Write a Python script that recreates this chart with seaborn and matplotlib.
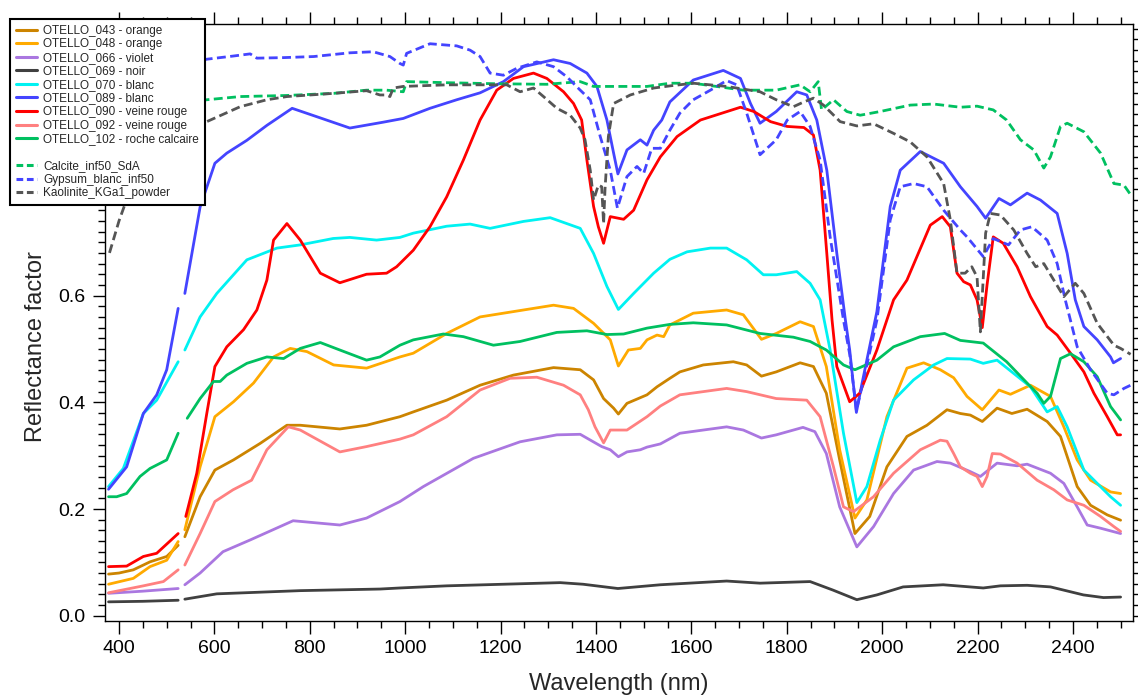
import matplotlib
matplotlib.use("Agg")
import matplotlib.pyplot as plt
from matplotlib.lines import Line2D
from matplotlib.ticker import MultipleLocator, FuncFormatter
import numpy as np
import pandas as pd
import seaborn as sns

# wavelength (nm) / reflectance; OTELLO spectra have a gap ~525-538 nm
wl_043 = [378, 400, 430, 465, 500, 524, 538, 570, 601, 640, 696, 752, 780, 863, 919, 989, 1017, 1087, 1157, 1227, 1311, 1367, 1395, 1416, 1437, 1447, 1465, 1486, 1507, 1528, 1555, 1576, 1625, 1688, 1716, 1747, 1778, 1828, 1856, 1883, 1911, 1943, 1974, 2010, 2052, 2094, 2136, 2164, 2185, 2210, 2241, 2272, 2304, 2346, 2374, 2409, 2437, 2472, 2500]
r_043 = [0.078, 0.080, 0.086, 0.101, 0.111, 0.132, 0.148, 0.223, 0.273, 0.292, 0.323, 0.357, 0.357, 0.350, 0.357, 0.373, 0.382, 0.404, 0.432, 0.451, 0.465, 0.461, 0.442, 0.407, 0.389, 0.378, 0.398, 0.406, 0.414, 0.429, 0.445, 0.457, 0.470, 0.476, 0.470, 0.449, 0.457, 0.474, 0.467, 0.417, 0.292, 0.154, 0.186, 0.279, 0.336, 0.357, 0.386, 0.379, 0.376, 0.364, 0.389, 0.379, 0.387, 0.364, 0.336, 0.242, 0.207, 0.189, 0.179]

wl_048 = [378, 430, 465, 500, 524, 538, 570, 601, 640, 682, 724, 759, 794, 850, 919, 989, 1017, 1087, 1157, 1227, 1311, 1353, 1395, 1430, 1447, 1468, 1493, 1507, 1528, 1542, 1555, 1604, 1674, 1709, 1747, 1778, 1828, 1856, 1883, 1911, 1943, 1968, 2010, 2052, 2087, 2122, 2150, 2178, 2210, 2245, 2269, 2311, 2353, 2381, 2409, 2437, 2479, 2500]
r_048 = [0.059, 0.070, 0.092, 0.104, 0.139, 0.161, 0.279, 0.373, 0.401, 0.436, 0.485, 0.501, 0.495, 0.470, 0.464, 0.485, 0.492, 0.529, 0.560, 0.570, 0.582, 0.576, 0.548, 0.517, 0.468, 0.498, 0.501, 0.517, 0.526, 0.523, 0.545, 0.567, 0.573, 0.564, 0.518, 0.529, 0.551, 0.542, 0.467, 0.311, 0.183, 0.217, 0.373, 0.464, 0.474, 0.461, 0.446, 0.411, 0.386, 0.423, 0.415, 0.432, 0.411, 0.354, 0.292, 0.254, 0.232, 0.229]

wl_066 = [378, 450, 524, 538, 570, 618, 675, 765, 863, 919, 989, 1038, 1143, 1241, 1318, 1367, 1412, 1430, 1447, 1465, 1493, 1507, 1535, 1576, 1674, 1709, 1747, 1778, 1834, 1859, 1883, 1911, 1947, 1982, 2024, 2066, 2115, 2143, 2185, 2206, 2241, 2283, 2304, 2353, 2381, 2409, 2430, 2458, 2500]
r_066 = [0.042, 0.046, 0.051, 0.058, 0.080, 0.120, 0.142, 0.178, 0.170, 0.183, 0.214, 0.242, 0.295, 0.326, 0.339, 0.340, 0.317, 0.311, 0.298, 0.307, 0.311, 0.316, 0.322, 0.342, 0.354, 0.348, 0.333, 0.339, 0.353, 0.345, 0.304, 0.204, 0.129, 0.167, 0.229, 0.273, 0.289, 0.286, 0.270, 0.261, 0.286, 0.281, 0.284, 0.267, 0.248, 0.204, 0.170, 0.164, 0.154]

wl_069 = [378, 450, 524, 538, 605, 780, 947, 989, 1087, 1325, 1373, 1446, 1535, 1674, 1744, 1849, 1897, 1947, 1989, 2044, 2128, 2212, 2248, 2304, 2353, 2422, 2464, 2500]
r_069 = [0.026, 0.027, 0.029, 0.031, 0.041, 0.047, 0.050, 0.052, 0.056, 0.062, 0.059, 0.051, 0.058, 0.065, 0.061, 0.064, 0.048, 0.030, 0.039, 0.054, 0.058, 0.052, 0.056, 0.057, 0.054, 0.039, 0.034, 0.035]

wl_070 = [378, 409, 451, 479, 524, 538, 570, 605, 668, 731, 780, 849, 884, 940, 989, 1017, 1087, 1136, 1178, 1248, 1304, 1367, 1395, 1423, 1447, 1479, 1521, 1555, 1591, 1640, 1674, 1716, 1751, 1778, 1821, 1849, 1870, 1891, 1919, 1947, 1968, 1996, 2024, 2066, 2108, 2136, 2185, 2212, 2241, 2276, 2311, 2346, 2367, 2388, 2423, 2451, 2479, 2500]
r_070 = [0.242, 0.276, 0.379, 0.404, 0.476, 0.498, 0.560, 0.604, 0.667, 0.689, 0.695, 0.707, 0.709, 0.704, 0.709, 0.717, 0.730, 0.734, 0.726, 0.739, 0.746, 0.726, 0.679, 0.617, 0.574, 0.604, 0.642, 0.668, 0.682, 0.689, 0.689, 0.667, 0.639, 0.639, 0.645, 0.623, 0.592, 0.498, 0.342, 0.212, 0.242, 0.329, 0.404, 0.442, 0.470, 0.482, 0.481, 0.473, 0.479, 0.454, 0.429, 0.382, 0.392, 0.354, 0.273, 0.248, 0.223, 0.207]

wl_089 = [378, 416, 451, 479, 500, 524, 538, 570, 601, 626, 668, 710, 763, 822, 884, 954, 996, 1052, 1108, 1157, 1206, 1248, 1311, 1346, 1381, 1402, 1423, 1437, 1446, 1465, 1493, 1507, 1521, 1538, 1555, 1604, 1667, 1703, 1724, 1744, 1778, 1821, 1842, 1863, 1884, 1905, 1923, 1932, 1946, 1958, 1989, 2017, 2038, 2080, 2129, 2164, 2199, 2217, 2245, 2269, 2304, 2332, 2367, 2388, 2405, 2423, 2451, 2479, 2485, 2500]
r_089 = [0.237, 0.279, 0.379, 0.414, 0.461, 0.576, 0.604, 0.766, 0.848, 0.867, 0.891, 0.919, 0.951, 0.933, 0.914, 0.925, 0.932, 0.951, 0.967, 0.980, 1.001, 1.029, 1.042, 1.035, 1.017, 0.992, 0.929, 0.867, 0.828, 0.873, 0.892, 0.882, 0.910, 0.929, 0.963, 1.004, 1.022, 1.007, 0.960, 0.923, 0.945, 0.982, 0.976, 0.929, 0.835, 0.679, 0.554, 0.498, 0.381, 0.436, 0.570, 0.767, 0.835, 0.870, 0.848, 0.804, 0.767, 0.745, 0.782, 0.770, 0.792, 0.779, 0.754, 0.679, 0.592, 0.542, 0.517, 0.485, 0.474, 0.482]

wl_090 = [378, 416, 451, 479, 524, 540, 563, 584, 601, 626, 661, 689, 710, 724, 752, 780, 822, 863, 919, 961, 982, 1017, 1052, 1087, 1122, 1157, 1192, 1227, 1269, 1297, 1332, 1353, 1370, 1381, 1395, 1405, 1416, 1430, 1458, 1479, 1507, 1535, 1570, 1619, 1703, 1731, 1766, 1801, 1836, 1856, 1870, 1884, 1895, 1905, 1932, 1953, 1989, 2024, 2052, 2101, 2126, 2143, 2157, 2171, 2185, 2199, 2210, 2220, 2233, 2254, 2283, 2311, 2346, 2367, 2395, 2423, 2444, 2472, 2493, 2500]
r_090 = [0.092, 0.093, 0.111, 0.117, 0.154, 0.186, 0.267, 0.379, 0.467, 0.504, 0.536, 0.573, 0.629, 0.704, 0.735, 0.704, 0.642, 0.624, 0.640, 0.642, 0.654, 0.685, 0.729, 0.785, 0.854, 0.929, 0.985, 1.007, 1.017, 1.007, 0.982, 0.960, 0.929, 0.854, 0.767, 0.729, 0.698, 0.748, 0.743, 0.760, 0.817, 0.860, 0.898, 0.929, 0.953, 0.945, 0.926, 0.917, 0.915, 0.901, 0.835, 0.679, 0.554, 0.467, 0.401, 0.417, 0.498, 0.592, 0.629, 0.732, 0.748, 0.729, 0.642, 0.626, 0.620, 0.592, 0.540, 0.620, 0.710, 0.698, 0.654, 0.598, 0.542, 0.526, 0.492, 0.457, 0.417, 0.373, 0.339, 0.339]

wl_092 = [378, 451, 493, 524, 538, 570, 601, 639, 678, 710, 755, 780, 863, 919, 989, 1017, 1087, 1157, 1220, 1276, 1332, 1367, 1384, 1398, 1416, 1430, 1465, 1507, 1535, 1576, 1674, 1716, 1778, 1842, 1870, 1898, 1919, 1940, 1982, 2024, 2080, 2122, 2136, 2150, 2164, 2185, 2199, 2210, 2220, 2231, 2248, 2283, 2325, 2360, 2388, 2423, 2458, 2486, 2500]
r_092 = [0.043, 0.056, 0.064, 0.086, 0.095, 0.154, 0.214, 0.236, 0.254, 0.311, 0.354, 0.348, 0.307, 0.317, 0.331, 0.339, 0.373, 0.423, 0.445, 0.447, 0.432, 0.414, 0.386, 0.354, 0.324, 0.348, 0.348, 0.373, 0.393, 0.414, 0.426, 0.420, 0.407, 0.404, 0.373, 0.279, 0.204, 0.195, 0.223, 0.267, 0.311, 0.329, 0.327, 0.304, 0.279, 0.267, 0.261, 0.242, 0.261, 0.304, 0.303, 0.286, 0.254, 0.236, 0.217, 0.207, 0.186, 0.167, 0.158]

wl_102 = [378, 395, 416, 444, 465, 500, 524, 543, 570, 598, 612, 626, 668, 710, 745, 780, 822, 863, 919, 947, 989, 1017, 1080, 1122, 1185, 1241, 1318, 1381, 1423, 1458, 1507, 1555, 1604, 1674, 1744, 1814, 1849, 1883, 1919, 1943, 1989, 2024, 2080, 2131, 2164, 2212, 2261, 2304, 2325, 2339, 2353, 2374, 2395, 2423, 2451, 2479, 2500]
r_102 = [0.223, 0.223, 0.229, 0.261, 0.276, 0.292, 0.342, 0.370, 0.407, 0.439, 0.439, 0.451, 0.473, 0.485, 0.482, 0.501, 0.512, 0.498, 0.479, 0.485, 0.507, 0.517, 0.528, 0.523, 0.507, 0.514, 0.531, 0.534, 0.527, 0.528, 0.539, 0.546, 0.549, 0.545, 0.529, 0.522, 0.514, 0.498, 0.470, 0.461, 0.479, 0.504, 0.523, 0.529, 0.516, 0.511, 0.476, 0.436, 0.417, 0.398, 0.411, 0.482, 0.491, 0.476, 0.448, 0.392, 0.367]

# library spectra (dashed)
wl_cal = [380, 450, 520, 584, 654, 750, 850, 919, 961, 996, 1003, 1087, 1192, 1297, 1367, 1395, 1437, 1507, 1555, 1604, 1709, 1778, 1828, 1849, 1866, 1873, 1898, 1926, 1954, 1996, 2059, 2108, 2164, 2199, 2233, 2261, 2290, 2318, 2339, 2353, 2374, 2388, 2423, 2458, 2486, 2507, 2521]
r_cal = [0.930, 0.950, 0.960, 0.967, 0.973, 0.975, 0.979, 0.985, 0.985, 0.982, 1.001, 0.999, 0.997, 0.996, 1.001, 0.992, 0.992, 0.992, 0.998, 0.998, 0.985, 0.985, 0.995, 0.982, 1.001, 0.948, 0.967, 0.945, 0.938, 0.945, 0.957, 0.959, 0.953, 0.955, 0.948, 0.929, 0.892, 0.873, 0.839, 0.860, 0.917, 0.923, 0.907, 0.867, 0.810, 0.807, 0.789]

wl_gyp = [380, 450, 520, 584, 640, 675, 689, 745, 808, 884, 933, 968, 989, 996, 1003, 1052, 1108, 1136, 1157, 1178, 1206, 1234, 1276, 1311, 1339, 1367, 1388, 1409, 1430, 1445, 1465, 1486, 1500, 1517, 1535, 1555, 1576, 1604, 1640, 1674, 1695, 1716, 1744, 1778, 1801, 1828, 1849, 1870, 1891, 1919, 1932, 1946, 1958, 1989, 2017, 2038, 2066, 2094, 2129, 2164, 2178, 2212, 2233, 2265, 2290, 2314, 2346, 2367, 2384, 2409, 2437, 2472, 2486, 2507, 2521]
r_gyp = [0.850, 0.970, 1.030, 1.043, 1.049, 1.053, 1.045, 1.046, 1.048, 1.055, 1.057, 1.048, 1.035, 1.032, 1.054, 1.072, 1.068, 1.060, 1.048, 1.017, 1.013, 1.026, 1.038, 1.029, 1.010, 0.985, 0.967, 0.898, 0.835, 0.764, 0.823, 0.842, 0.829, 0.876, 0.876, 0.910, 0.942, 0.967, 0.985, 1.003, 0.995, 0.942, 0.864, 0.892, 0.929, 0.945, 0.917, 0.854, 0.710, 0.554, 0.490, 0.385, 0.430, 0.554, 0.742, 0.804, 0.810, 0.804, 0.760, 0.723, 0.710, 0.673, 0.707, 0.695, 0.723, 0.729, 0.704, 0.660, 0.592, 0.504, 0.461, 0.417, 0.414, 0.426, 0.432]

wl_kao = [380, 400, 420, 460, 520, 584, 654, 710, 752, 850, 919, 947, 961, 968, 975, 996, 1087, 1178, 1213, 1241, 1269, 1290, 1318, 1346, 1367, 1377, 1388, 1395, 1405, 1412, 1416, 1419, 1426, 1437, 1472, 1521, 1555, 1604, 1674, 1744, 1778, 1814, 1836, 1856, 1877, 1912, 1947, 1982, 2024, 2059, 2094, 2129, 2143, 2157, 2174, 2188, 2199, 2206, 2217, 2227, 2248, 2276, 2304, 2322, 2339, 2360, 2381, 2405, 2423, 2451, 2486, 2500, 2521]
r_kao = [0.680, 0.740, 0.790, 0.860, 0.900, 0.926, 0.954, 0.967, 0.973, 0.979, 0.984, 0.976, 0.976, 0.973, 0.989, 0.992, 0.995, 0.995, 0.995, 0.982, 0.989, 0.973, 0.951, 0.938, 0.914, 0.892, 0.835, 0.779, 0.807, 0.804, 0.735, 0.800, 0.898, 0.960, 0.976, 0.989, 0.993, 0.998, 0.992, 0.982, 0.967, 0.954, 0.963, 0.970, 0.957, 0.926, 0.918, 0.922, 0.904, 0.888, 0.860, 0.810, 0.742, 0.642, 0.642, 0.654, 0.635, 0.532, 0.717, 0.754, 0.751, 0.723, 0.679, 0.654, 0.660, 0.629, 0.598, 0.623, 0.604, 0.548, 0.507, 0.501, 0.490]

labels = ["OTELLO_043 - orange", "OTELLO_048 - orange", "OTELLO_066 - violet",
          "OTELLO_069 - noir", "OTELLO_070 - blanc", "OTELLO_089 - blanc",
          "OTELLO_090 - veine rouge", "OTELLO_092 - veine rouge",
          "OTELLO_102 - roche calcaire",
          "Calcite_inf50_SdA", "Gypsum_blanc_inf50", "Kaolinite_KGa1_powder"]
colors = ["#CC8400", "#FFAA00", "#AA77E0", "#404040", "#00F2F2", "#4444FF",
          "#FF0000", "#FF8080", "#00C060", "#00C060", "#4444FF", "#555555"]
data = [(wl_043, r_043), (wl_048, r_048), (wl_066, r_066), (wl_069, r_069),
        (wl_070, r_070), (wl_089, r_089), (wl_090, r_090), (wl_092, r_092),
        (wl_102, r_102), (wl_cal, r_cal), (wl_gyp, r_gyp), (wl_kao, r_kao)]
dashed = [False] * 9 + [True] * 3

sns.set_style("ticks")
plt.rcParams["font.family"] = ["Liberation Sans", "DejaVu Sans"]

fig, ax = plt.subplots(figsize=(11.38, 6.98), dpi=100)
fig.subplots_adjust(left=105 / 1138, right=1133 / 1138, bottom=1 - 621 / 698, top=1 - 24 / 698)

dash = (0, (3.2, 1.6))
for (wl, r), lab, c, d in zip(data, labels, colors, dashed):
    df = pd.DataFrame({"wl": wl, "r": r})
    # break OTELLO curves at the detector junction
    df["seg"] = 0 if d else (df["wl"] > 530).astype(int)
    sns.lineplot(data=df, x="wl", y="r", units="seg", estimator=None, sort=False,
                 color=c, lw=2.0, linestyle=dash if d else "-", ax=ax, legend=False)

ax.set_xlim(370.6, 2526)
ax.set_ylim(-0.0099, 1.109)
ax.xaxis.set_major_locator(MultipleLocator(200))
ax.xaxis.set_minor_locator(MultipleLocator(50))
ax.yaxis.set_major_locator(MultipleLocator(0.2))
ax.yaxis.set_minor_locator(MultipleLocator(0.02))
# labels above 0.6 sit under the legend box
ax.yaxis.set_major_formatter(FuncFormatter(lambda v, p: "%.1f" % v if v < 0.7 else ""))
ax.tick_params(which="both", direction="out", top=True, right=True, width=1, colors="black",
               labelsize=14, pad=5)
ax.tick_params(which="major", length=9)
ax.tick_params(which="minor", length=5)
for s in ax.spines.values():
    s.set_linewidth(1.0)
    s.set_color("black")

ax.set_xlabel("Wavelength (nm)", fontsize=17, labelpad=11)
ax.set_ylabel("Reflectance factor", fontsize=17)
ax.yaxis.set_label_coords(-0.056, 0.46)

handles = []
for lab, c, d in zip(labels, colors, dashed):
    if lab.startswith("Calcite"):
        handles.append(Line2D([], [], color="none", label=" "))
    handles.append(Line2D([], [], color=c, lw=2.2, linestyle=(0, (2.2, 1.2)) if d else "-", label=lab))
leg = ax.legend(handles=handles, loc="upper left", bbox_to_anchor=(10 / 1138, 1 - 19 / 698),
                bbox_transform=fig.transFigure, borderaxespad=0, fontsize=8.5, frameon=True,
                fancybox=False, edgecolor="black", framealpha=1, labelspacing=0.13,
                handlelength=1.8, handletextpad=0.5, borderpad=0.5)
leg.get_frame().set_linewidth(1.5)
leg.set_zorder(10)

fig.savefig("out.png", dpi=100)
